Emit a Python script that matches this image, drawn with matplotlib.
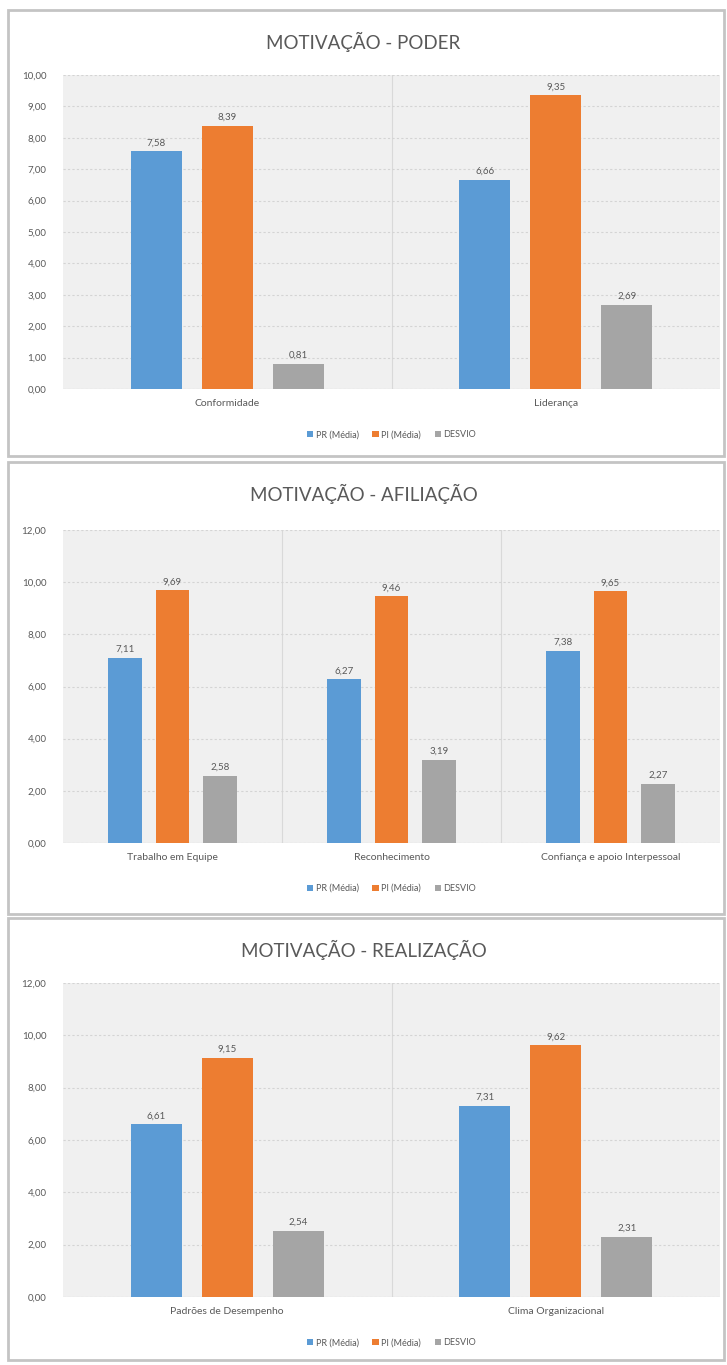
import matplotlib
matplotlib.use("Agg")
import matplotlib.pyplot as plt
import numpy as np
from matplotlib.patches import Rectangle

plt.rcParams['font.family'] = ['Lato', 'DejaVu Sans']

series_names = ['PR (Média)', 'PI (Média)', 'DESVIO']
colors = ['#5b9bd5', '#ed7d31', '#a5a5a5']

# MOTIVAÇÃO - PODER
poder_cats = ['Conformidade', 'Liderança']
poder_pr = [7.58, 6.66]
poder_pi = [8.39, 9.35]
poder_desvio = [0.81, 2.69]

# MOTIVAÇÃO - AFILIAÇÃO
afil_cats = ['Trabalho em Equipe', 'Reconhecimento', 'Confiança e apoio Interpessoal']
afil_pr = [7.11, 6.27, 7.38]
afil_pi = [9.69, 9.46, 9.65]
afil_desvio = [2.58, 3.19, 2.27]

# MOTIVAÇÃO - REALIZAÇÃO
real_cats = ['Padrões de Desempenho', 'Clima Organizacional']
real_pr = [6.61, 7.31]
real_pi = [9.15, 9.62]
real_desvio = [2.54, 2.31]

W, H = 727, 1365
fig = plt.figure(figsize=(W / 100, H / 100), dpi=100)
fig.patch.set_facecolor('white')

txt = '#595959'


def fy(y):
    return 1 - y / H


def panel(box, plot, title, cats, values, ymax, ystep):
    x0, y0, x1, y1 = box
    fig.patches.append(Rectangle((x0 / W, fy(y1)), (x1 - x0) / W, (y1 - y0) / H,
                                 transform=fig.transFigure, fill=False,
                                 edgecolor='#c4c4c4', linewidth=2))
    top, bottom = plot
    ax = fig.add_axes([63 / W, fy(bottom), 657 / W, (bottom - top) / H])
    ax.set_facecolor('#f0f0f0')
    n = len(cats)
    x = np.arange(n)
    bw = 0.155
    off = 0.216
    for i, (vals, name, c) in enumerate(zip(values, series_names, colors)):
        bars = ax.bar(x + (i - 1) * off, vals, bw, color=c, label=name, zorder=3)
        for b, v in zip(bars, vals):
            ax.text(b.get_x() + b.get_width() / 2, v + ymax * 0.012,
                    f'{v:.2f}'.replace('.', ','), ha='center', va='bottom',
                    fontsize=7, color=txt, zorder=4)
    ax.set_xlim(-0.5, n - 0.5)
    ax.set_ylim(0, ymax)
    ticks = np.arange(0, ymax + 0.001, ystep)
    ax.set_yticks(ticks)
    ax.set_yticklabels([f'{t:.2f}'.replace('.', ',') for t in ticks],
                       fontsize=7, color=txt)
    ax.set_xticks(x)
    ax.set_xticklabels(cats, fontsize=7.5, color=txt)
    ax.tick_params(axis='y', length=0, pad=12)
    ax.tick_params(axis='x', length=0, pad=7)
    for s in ax.spines.values():
        s.set_visible(False)
    ax.yaxis.grid(True, color='#d4d4d4', linestyle=(0, (2, 2)), linewidth=0.8, zorder=0)
    for k in range(1, n):
        ax.axvline(k - 0.5, color='#d9d9d9', linewidth=0.8, zorder=1)
    ax.axhline(0, color='#d9d9d9', linewidth=0.8, zorder=2)
    fig.text(0.5, fy(y0 + 32), title, ha='center', va='center',
             fontsize=13.5, color=txt)
    ax.legend(loc='upper center', bbox_to_anchor=(0.5, -0.105), ncol=3,
              frameon=False, fontsize=6.5, labelcolor=txt, handlelength=0.7,
              handleheight=0.7, columnspacing=1.5, handletextpad=0.3)
    return ax


panel((8, 10, 724, 456), (75, 389), 'MOTIVAÇÃO - PODER', poder_cats,
      [poder_pr, poder_pi, poder_desvio], 10, 1)
panel((8, 462, 724, 914), (530, 843), 'MOTIVAÇÃO - AFILIAÇÃO', afil_cats,
      [afil_pr, afil_pi, afil_desvio], 12, 2)
panel((8, 918, 724, 1360), (983, 1297), 'MOTIVAÇÃO - REALIZAÇÃO', real_cats,
      [real_pr, real_pi, real_desvio], 12, 2)

fig.savefig('out.png', dpi=100)
